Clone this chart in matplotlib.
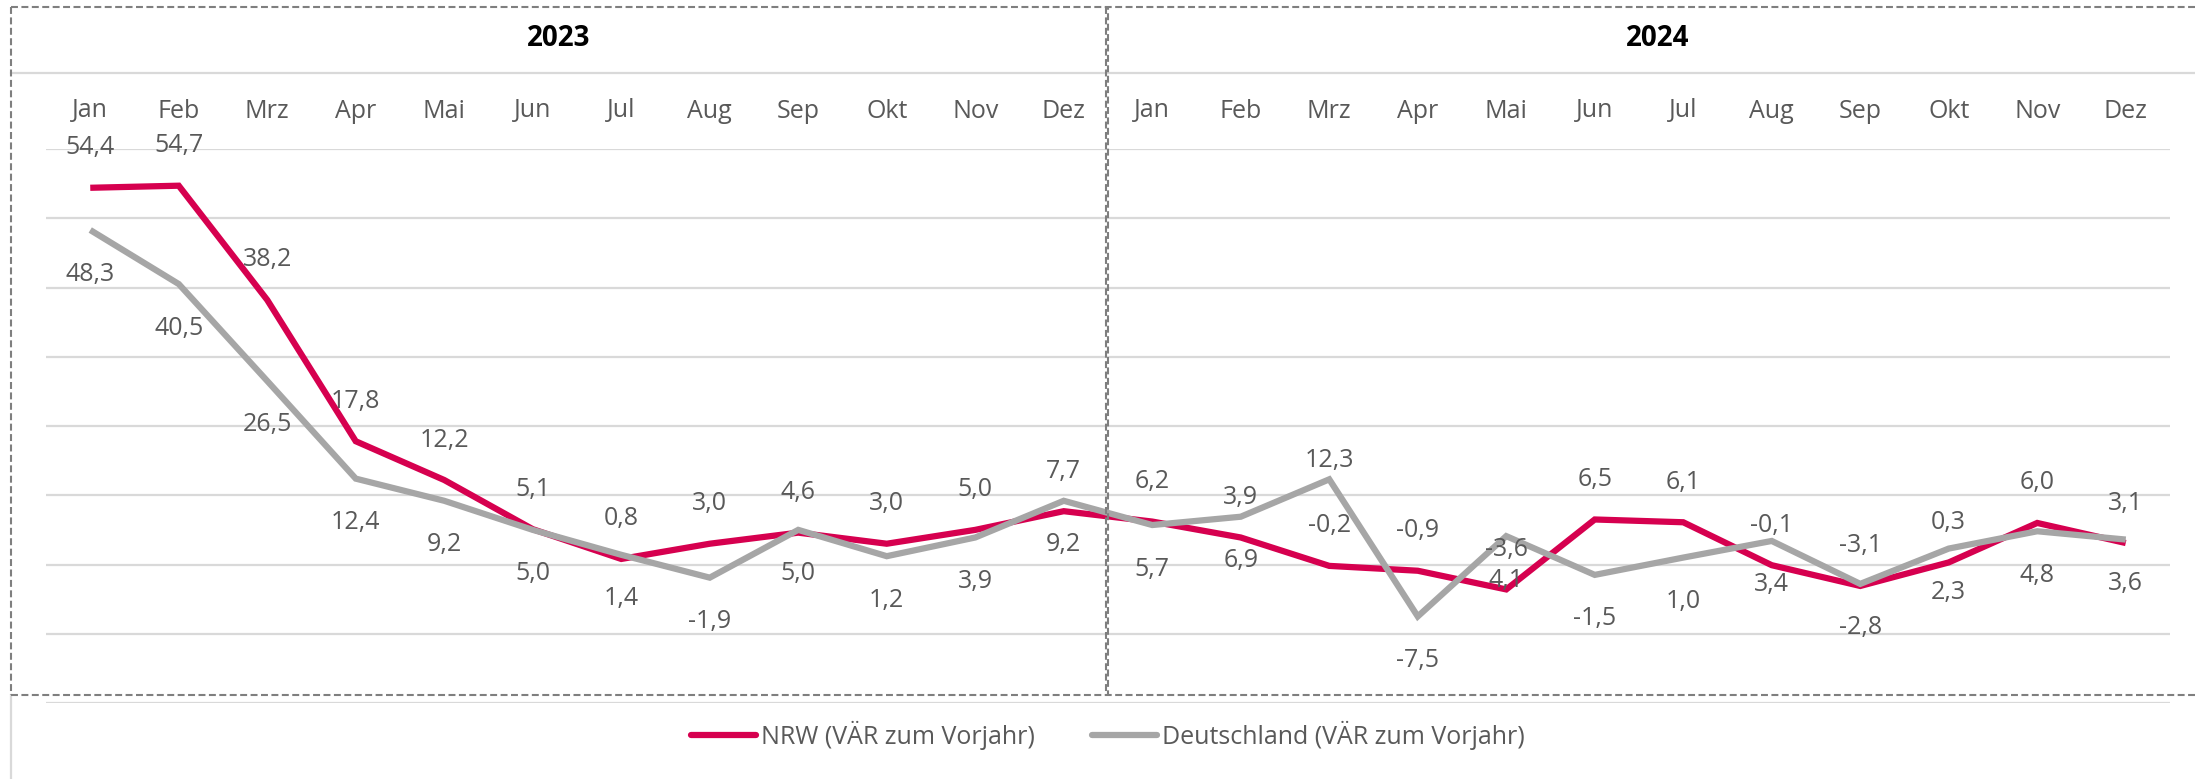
import matplotlib
matplotlib.use('agg')
import matplotlib.pyplot as plt
from matplotlib.lines import Line2D
from matplotlib.transforms import blended_transform_factory

# Data
months = ["Jan", "Feb", "Mrz", "Apr", "Mai", "Jun", "Jul", "Aug", "Sep", "Okt", "Nov", "Dez"]
years = ["2023", "2024"]
nrw = [54.4, 54.7, 38.2, 17.8, 12.2, 5.1, 0.8, 3.0, 4.6, 3.0, 5.0, 7.7,
       6.2, 3.9, -0.2, -0.9, -3.6, 6.5, 6.1, -0.1, -3.1, 0.3, 6.0, 3.1]
de = [48.3, 40.5, 26.5, 12.4, 9.2, 5.0, 1.4, -1.9, 5.0, 1.2, 3.9, 9.2,
      5.7, 6.9, 12.3, -7.5, 4.1, -1.5, 1.0, 3.4, -2.8, 2.3, 4.8, 3.6]
series_names = ["NRW (VÄR zum Vorjahr)", "Deutschland (VÄR zum Vorjahr)"]

RED = "#D6004F"
GRAY = "#A6A6A6"
TXT = "#595959"
GRID = "#D9D9D9"
BOX = "#7F7F7F"

plt.rcParams['font.family'] = ['Open Sans', 'DejaVu Sans']
plt.rcParams['lines.scale_dashes'] = False

W, H = 2195, 779
fig = plt.figure(figsize=(W / 100, H / 100), dpi=100)

def fx(px):
    return px / W

def fy(py):
    return 1 - py / H

# plot area: x 46..2170 px, y value 60 at 149 px, -20 at 703 px
ax = fig.add_axes([fx(46), fy(703), fx(2170) - fx(46), fy(149) - fy(703)])
x = list(range(len(nrw)))
ax.set_xlim(-0.5, len(nrw) - 0.5)
ax.set_ylim(-20, 60)
ax.set_yticks(range(-20, 61, 10))
ax.yaxis.grid(True, color=GRID, lw=1.6)
ax.set_axisbelow(True)
ax.set_xticks([])
ax.tick_params(left=False, labelleft=False)
for s in ax.spines.values():
    s.set_visible(False)

ax.plot(x, nrw, color=RED, lw=4.5, solid_joinstyle='miter', solid_capstyle='butt', zorder=3, clip_on=False)
ax.plot(x, de, color=GRAY, lw=4.5, solid_joinstyle='miter', solid_capstyle='butt', zorder=4, clip_on=False)

# data labels: NRW above, Deutschland below (Mrz 2024 DE moved above)
for i, v in enumerate(nrw):
    ax.annotate(f"{v:.1f}".replace(".", ","), (i, v), xytext=(0, 40), textcoords='offset pixels',
                ha='center', va='center', fontsize=18, color=TXT, zorder=5)
for i, v in enumerate(de):
    dy = 19 if i == 14 else -44
    ax.annotate(f"{v:.1f}".replace(".", ","), (i, v), xytext=(0, dy), textcoords='offset pixels',
                ha='center', va='center', fontsize=18, color=TXT, zorder=5)

# month labels at top
tr = blended_transform_factory(ax.transData, fig.transFigure)
for i in x:
    ax.text(i, fy(111), months[i % 12], transform=tr, ha='center', va='center',
            fontsize=18, color=TXT, clip_on=False)

# year headers and dashed boxes
fig.text(fx(559), fy(39), years[0], ha='center', va='center', fontsize=20, fontweight='bold', color='black')
fig.text(fx(1658), fy(39), years[1], ha='center', va='center', fontsize=20, fontweight='bold', color='black')

fig.add_artist(Line2D([fx(11), fx(W)], [fy(73), fy(73)], color=GRID, lw=1.6))
fig.add_artist(Line2D([fx(11), fx(11)], [fy(695), fy(H)], color=GRID, lw=1.6))

dash = dict(color=BOX, lw=1.5, linestyle=(0, (5, 2.5)), zorder=10)
fig.add_artist(Line2D([fx(11), fx(W)], [fy(7), fy(7)], **dash))
fig.add_artist(Line2D([fx(11), fx(W)], [fy(695), fy(695)], **dash))
fig.add_artist(Line2D([fx(11), fx(11)], [fy(7), fy(695)], **dash))
fig.add_artist(Line2D([fx(1106), fx(1106)], [fy(7), fy(695)], **dash))
fig.add_artist(Line2D([fx(1108), fx(1108)], [fy(7), fy(695)], color=BOX, lw=1.5, linestyle=(3, (5, 2.5)), zorder=10))

# legend
handles = [Line2D([], [], color=RED, lw=4.5, solid_capstyle='round'),
           Line2D([], [], color=GRAY, lw=4.5, solid_capstyle='round')]
leg = fig.legend(handles, series_names, loc='center', bbox_to_anchor=(fx(1108), fy(735)), ncol=2,
                 frameon=False, fontsize=18, handlelength=2.6, handletextpad=0.2, columnspacing=2.3)
for t in leg.get_texts():
    t.set_color(TXT)

fig.savefig("out.png", dpi=100)
